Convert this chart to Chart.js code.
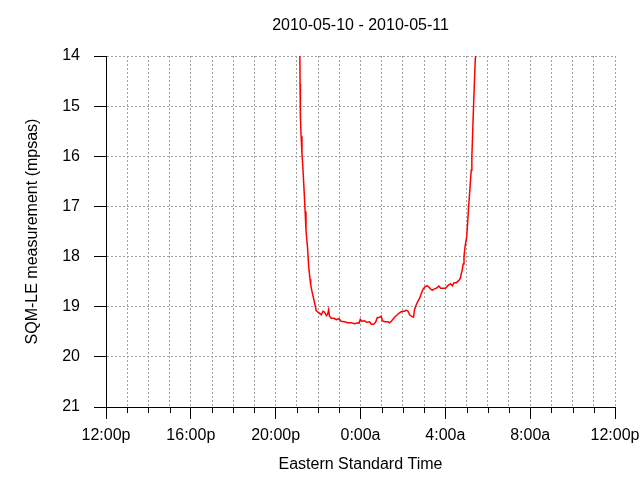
<!DOCTYPE html>
<html><head><meta charset="utf-8">
<script src="https://cdn.jsdelivr.net/npm/chart.js@4"></script>
<style>html,body{margin:0;padding:0;background:#fff;}canvas{display:block;}</style>
</head><body>
<canvas id="c" width="640" height="480"></canvas>
<script>
const titleText = '2010-05-10 - 2010-05-11';
const xTitle = 'Eastern Standard Time';
const yTitle = 'SQM-LE measurement (mpsas)';
const tickLabels = ['12:00p','16:00p','20:00p','0:00a','4:00a','8:00a','12:00p'];
// hours after midnight of 2010-05-10 (12 = noon, 24 = midnight, 36 = noon next day)
const hours = [21.10,21.14,21.15,21.16,21.17,21.20,21.24,21.28,21.34,21.39,21.43,21.50,21.56,21.62,21.65,21.71,21.80,21.87,21.91,21.99,
  22.07,22.15,22.23,22.27,22.31,22.39,22.45,22.50,22.54,22.62,22.75,22.86,22.98,23.09,23.25,23.40,23.57,23.72,23.88,23.93,
  23.99,24.07,24.19,24.30,24.43,24.51,24.62,24.71,24.79,24.90,24.98,25.03,25.14,25.29,25.37,25.45,25.53,25.61,25.66,25.76,
  25.88,25.97,26.08,26.16,26.24,26.32,26.40,26.50,26.55,26.63,26.71,26.79,26.87,26.95,27.03,27.13,27.23,27.31,27.39,27.46,
  27.58,27.70,27.78,27.89,28.01,28.12,28.24,28.33,28.41,28.52,28.63,28.71,28.75,28.80,28.84,28.88,28.93,29.01,29.06,29.10,
  29.17,29.22,29.25,29.27,29.31,29.36,29.41,29.45,29.50];
const sqm = [12.5,13.9,14.55,14.65,15.2,15.6,15.95,16.2,16.68,17.1,17.48,17.81,18.21,18.45,18.56,18.69,18.86,18.99,19.08,19.11,
  19.13,19.16,19.09,19.10,19.11,19.18,19.15,19.06,19.19,19.23,19.23,19.26,19.24,19.29,19.30,19.32,19.32,19.34,19.32,19.33,
  19.25,19.29,19.28,19.31,19.30,19.35,19.35,19.31,19.22,19.21,19.19,19.28,19.30,19.30,19.32,19.29,19.25,19.21,19.19,19.15,
  19.11,19.09,19.09,19.07,19.09,19.16,19.19,19.21,19.05,18.96,18.89,18.83,18.73,18.65,18.61,18.58,18.61,18.65,18.67,18.65,
  18.63,18.59,18.63,18.63,18.63,18.58,18.54,18.58,18.52,18.52,18.48,18.43,18.34,18.26,18.15,18.0,17.8,17.6,17.27,17.0,
  16.58,16.28,16.0,15.78,15.25,14.65,14.08,13.9,12.5];
const xMin = 12, xMax = 36, majorEvery = 4;
const yMin = 14, yMax = 21;

Chart.defaults.font.family = "'Liberation Sans', Arial, sans-serif";
Chart.defaults.font.size = 16;
Chart.defaults.color = '#000';

const isMajor = v => ((v - xMin) % majorEvery) === 0;

const minorTicks = {
  id: 'minorTicks',
  afterDraw(chart) {
    const xs = chart.scales.x, ctx = chart.ctx;
    ctx.save();
    ctx.strokeStyle = '#000'; ctx.lineWidth = 1;
    ctx.beginPath();
    for (let h = xMin; h <= xMax; h++) {
      if (isMajor(h)) continue;
      const px = Math.round(xs.getPixelForValue(h)) + 0.5;
      ctx.moveTo(px, xs.top); ctx.lineTo(px, xs.top + 6);
    }
    ctx.stroke();
    ctx.restore();
  }
};

new Chart(document.getElementById('c'), {
  type: 'line',
  data: {
    datasets: [{
      data: hours.map((h, i) => ({x: h, y: sqm[i]})),
      borderColor: '#ff0000',
      borderWidth: 1.5,
      pointRadius: 0,
      tension: 0,
      fill: false,
      clip: 0
    }]
  },
  options: {
    responsive: false,
    animation: false,
    layout: {padding: {left: 0, right: 25, top: 0, bottom: 0}},
    plugins: {
      legend: {display: false},
      tooltip: {enabled: false},
      title: {
        display: true, text: titleText, fullSize: false,
        font: {size: 16, weight: 'normal'}, color: '#000',
        padding: {top: 15.6, bottom: 21.2}
      }
    },
    scales: {
      x: {
        type: 'linear', min: xMin, max: xMax,
        afterFit(s) { s.height = 73; s.paddingLeft = 0; s.paddingRight = 0; },
        ticks: {
          stepSize: 1, autoSkip: false, maxRotation: 0, padding: 6.6,
          callback: v => isMajor(v) ? tickLabels[(v - xMin) / majorEvery] : ''
        },
        grid: {
          color: 'rgb(160,160,160)', lineWidth: 1, tickLength: 12,
          tickColor: c => (c.tick && isMajor(c.tick.value)) ? '#000' : 'rgba(0,0,0,0)',
          tickBorderDash: []
        },
        border: {display: true, color: '#000', width: 1, dash: [2, 2]},
        title: {display: true, text: xTitle, padding: {top: 0, bottom: 6.2}}
      },
      y: {
        type: 'linear', min: yMin, max: yMax, reverse: true,
        afterFit(s) { s.width = 106; s.paddingTop = 0; s.paddingBottom = 0; },
        ticks: {stepSize: 1, padding: 14},
        grid: {color: 'rgb(160,160,160)', lineWidth: 1, tickLength: 12, tickColor: '#000', tickBorderDash: []},
        border: {display: true, color: '#000', width: 1, dash: [2, 2]},
        title: {display: true, text: yTitle, padding: {top: 23.4, bottom: 0}}
      }
    }
  },
  plugins: [minorTicks]
});
</script>
</body></html>
